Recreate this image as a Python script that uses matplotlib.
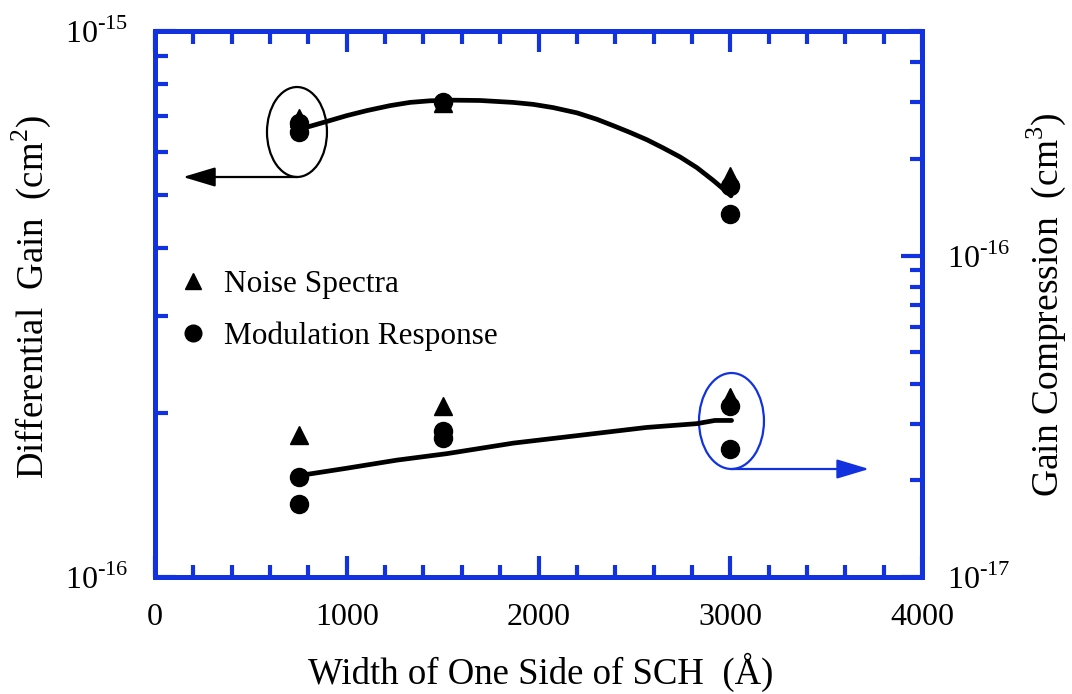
import matplotlib
matplotlib.use('Agg')
import matplotlib.pyplot as plt
from matplotlib.patches import Ellipse
from matplotlib.lines import Line2D
from matplotlib.ticker import FixedLocator, LogLocator, NullFormatter, MultipleLocator

plt.rcParams['font.family'] = 'Liberation Serif'
plt.rcParams['mathtext.fontset'] = 'custom'
plt.rcParams['mathtext.rm'] = 'Liberation Serif'

BLUE = '#1232e0'

# SCH half-width (Angstrom)
width_pts = [750, 1500, 3000]

# differential gain (cm^2), left axis
gain_noise = [6.94e-16, 7.37e-16, 5.43e-16]
gain_mod_x = [750, 750, 1500, 3000, 3000]
gain_mod = [6.78e-16, 6.52e-16, 7.41e-16, 5.21e-16, 4.63e-16]
gain_fit_x = [756, 897, 1001, 1106, 1226, 1330, 1434, 1554, 1695, 1867, 1971, 2076,
              2201, 2305, 2389, 2477, 2566, 2649, 2738, 2826, 2910, 2983, 3004]
gain_fit = [6.61e-16, 6.83e-16, 7.00e-16, 7.15e-16, 7.30e-16, 7.40e-16, 7.45e-16,
            7.47e-16, 7.46e-16, 7.40e-16, 7.34e-16, 7.24e-16, 7.08e-16, 6.89e-16,
            6.71e-16, 6.52e-16, 6.32e-16, 6.11e-16, 5.88e-16, 5.62e-16, 5.33e-16,
            5.07e-16, 4.99e-16]

# gain compression (cm^3), right axis
comp_noise = [2.77e-17, 3.40e-17, 3.64e-17]
comp_mod_x = [750, 750, 1500, 1500, 3000, 3000]
comp_mod = [2.04e-17, 1.69e-17, 2.84e-17, 2.70e-17, 3.41e-17, 2.51e-17]
comp_fit_x = [756, 1000, 1261, 1522, 1869, 2216, 2564, 2825, 2920, 3007]
comp_fit = [2.07e-17, 2.18e-17, 2.31e-17, 2.42e-17, 2.61e-17, 2.76e-17, 2.92e-17,
            3.00e-17, 3.07e-17, 3.07e-17]

fig = plt.figure(figsize=(10.72, 6.94), dpi=100)
ax = fig.add_axes([155 / 1072, 1 - 577 / 694, 767 / 1072, 546 / 694])
ax2 = ax.twinx()

# left axis: differential gain
ax.set_xlim(0, 4000)
ax.set_yscale('log')
ax.set_ylim(1e-16, 1e-15)
ax.plot(gain_fit_x, gain_fit, color='k', lw=3.4, solid_capstyle='round')
ax.plot(width_pts, gain_noise, ls='none', marker='^', ms=13, color='k')
ax.plot(gain_mod_x, gain_mod, ls='none', marker='o', ms=13, color='k')

# right axis: gain compression
ax2.set_yscale('log')
ax2.set_ylim(1e-17, 5e-16)
ax2.plot(comp_fit_x, comp_fit, color='k', lw=3.4, solid_capstyle='round')
ax2.plot(width_pts, comp_noise, ls='none', marker='^', ms=13, color='k')
ax2.plot(comp_mod_x, comp_mod, ls='none', marker='o', ms=13, color='k')

# ticks
ax.xaxis.set_major_locator(MultipleLocator(1000))
ax.xaxis.set_minor_locator(MultipleLocator(200))
ax.yaxis.set_major_locator(FixedLocator([1e-16, 1e-15]))
ax.yaxis.set_minor_locator(LogLocator(subs=range(2, 10)))
ax.yaxis.set_minor_formatter(NullFormatter())
ax.set_yticklabels([r'10$^{\text{-16}}$', r'10$^{\text{-15}}$'])
ax2.yaxis.set_major_locator(FixedLocator([1e-17, 1e-16]))
ax2.yaxis.set_minor_locator(LogLocator(subs=range(2, 10)))
ax2.yaxis.set_minor_formatter(NullFormatter())
ax2.set_yticklabels([r'10$^{\text{-17}}$', r'10$^{\text{-16}}$'])

for a in (ax, ax2):
    a.tick_params(which='both', direction='in', color=BLUE, width=3, labelsize=23)
    a.tick_params(which='major', length=15)
    a.tick_params(which='minor', length=9)
    for s in a.spines.values():
        s.set_color(BLUE)
        s.set_linewidth(3.6)
ax.tick_params(axis='x', which='both', top=True, bottom=True, pad=19)
ax.tick_params(axis='y', which='both', left=True, right=False, pad=19)
ax2.tick_params(axis='y', which='both', right=True, left=False, pad=18)

# axis titles
fig.text(541 / 1072, 1 - 672 / 694, 'Width of One Side of SCH  (Å)', fontsize=26.5,
         ha='center', va='center')
fig.text(31 / 1072, 1 - 297 / 694, r'Differential  Gain  (cm$^{2}$)', fontsize=26.5,
         rotation=90, ha='center', va='center')
fig.text(1046 / 1072, 1 - 305 / 694, r'Gain Compression  (cm$^{3}$)', fontsize=27,
         rotation=90, ha='center', va='center')

# legend
handles = [Line2D([], [], ls='none', marker='^', ms=12, color='k'),
           Line2D([], [], ls='none', marker='o', ms=12, color='k')]
ax.legend(handles, ['Noise Spectra', 'Modulation Response'], loc='upper left',
          bbox_to_anchor=(0.0287, 0.562), frameon=False, fontsize=22.5,
          handlelength=1.0, handletextpad=0.5, labelspacing=0.7,
          borderpad=0, borderaxespad=0)

# circles marking which axis each group belongs to
ax2.add_patch(Ellipse((0.1851, 0.815), 0.0782, 0.1648, transform=ax2.transAxes,
                      fill=False, ec='k', lw=1.6))
ax2.annotate('', xy=(0.0365, 0.7326), xytext=(0.1851, 0.7326),
             xycoords='axes fraction', textcoords='axes fraction',
             arrowprops=dict(arrowstyle='-|>,head_length=1.0,head_width=0.3',
                             mutation_scale=20, color='k', lw=1.6,
                             shrinkA=0, shrinkB=0))
ax2.add_patch(Ellipse((0.7516, 0.2857), 0.0847, 0.1758, transform=ax2.transAxes,
                      fill=False, ec=BLUE, lw=1.6))
ax2.annotate('', xy=(0.931, 0.1978), xytext=(0.7516, 0.1978),
             xycoords='axes fraction', textcoords='axes fraction',
             arrowprops=dict(arrowstyle='-|>,head_length=1.0,head_width=0.3',
                             mutation_scale=20, color=BLUE, lw=1.6,
                             shrinkA=0, shrinkB=0))

fig.savefig('out.png', dpi=100)
